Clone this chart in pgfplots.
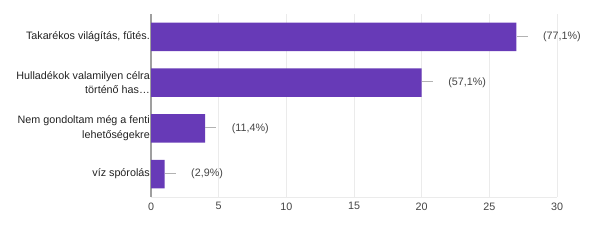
\documentclass[border=0pt]{standalone}
\usepackage{pgfplots}
\pgfplotsset{compat=1.18}
\usepackage{fontspec}
\setmainfont{Liberation Sans}
\definecolor{barc}{HTML}{673AB7}
\definecolor{gridc}{HTML}{EBEBEB}
\definecolor{txt}{HTML}{222222}
\definecolor{tick}{HTML}{444444}
\begin{document}
\begin{tikzpicture}
\useasboundingbox (0,0) rectangle (601bp,241bp);
\begin{axis}[
  at={(151bp,44bp)}, anchor=south west,
  scale only axis, width=406bp, height=183bp,
  xmin=0, xmax=30, ymin=-0.5, ymax=3.5,
  y dir=reverse,
  xtick={0,5,10,15,20,25,30},
  ytick={0,1,2,3},
  yticklabels={{Takarékos világítás, fűtés.},{Hulladékok valamilyen célra\\történő has…},{Nem gondoltam még a fenti\\lehetőségekre},{víz spórolás}},
  yticklabel style={align=right, font=\fontsize{10.8}{14.5}\selectfont, text=txt, inner sep=1pt, xshift=0bp},
  xticklabel style={font=\fontsize{10.8}{12}\selectfont, text=tick, yshift=-2bp},
  /pgf/number format/assume math mode=true,
  major tick length=0pt,
  xmajorgrids, major grid style={draw=gridc, line width=0.6pt},
  axis x line*=bottom, axis y line*=left,
  x axis line style={draw=gridc, line width=0.6pt, -},
  y axis line style={draw=gray!75, line width=1.1pt, -},
  xbar, bar width=0.62, bar shift=0pt,
  point meta=explicit symbolic,
  nodes near coords={\textcolor{gray!60}{\rule[0.32em]{11bp}{0.6pt}}\hspace{15.5bp}\textcolor{tick}{\pgfplotspointmeta}},
  nodes near coords align={horizontal},
  every node near coord/.append style={anchor=west, inner sep=0pt, xshift=0pt, font=\fontsize{10.8}{12}\selectfont},
  clip=false,
]
\addplot[fill=barc, draw=none] coordinates {
  (27,0) [(77,1\%)]
  (20,1) [(57,1\%)]
  (4,2) [(11,4\%)]
  (1,3) [(2,9\%)]
};
\end{axis}
\end{tikzpicture}
\end{document}
